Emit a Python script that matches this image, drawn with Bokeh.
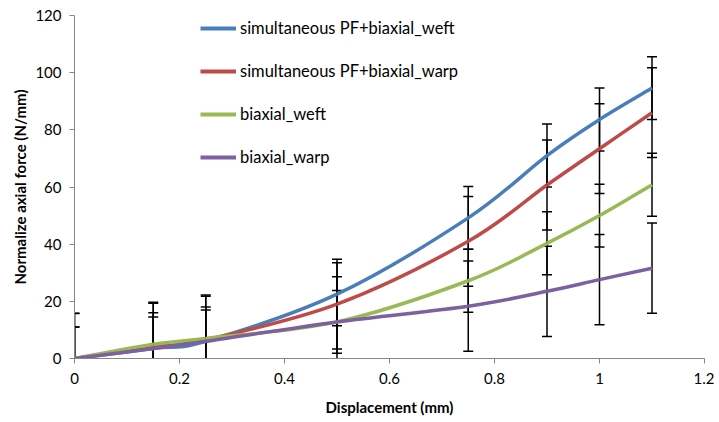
from bokeh.plotting import figure
from bokeh.models import (Range1d, FixedTicker, Whisker, ColumnDataSource, Legend, LegendItem, TeeHead)
from bokeh.embed import file_html
from bokeh.resources import INLINE

# ---- data ----
disp = [0, 0.15, 0.25, 0.5, 0.75, 0.9, 1.0, 1.1]
pf_weft = [0, 3.5, 6.0, 22.5, 49.2, 71.0, 83.6, 94.6]
pf_warp = [0, 4.0, 6.5, 19.0, 41.0, 60.7, 73.4, 86.0]
bi_weft = [0, 5.0, 7.0, 12.8, 27.2, 40.3, 50.0, 60.8]
bi_warp = [0, 3.5, 6.0, 12.8, 18.3, 23.5, 27.6, 31.6]

pf_weft_err_up = [11, 11, 11, 11, 11, 11, 11, 11]
pf_weft_err_dn = [0, 11, 11, 11, 11, 11, 11, 11]
pf_warp_err_up = [15.7, 15.7, 15.7, 15.7, 15.7, 15.7, 15.7, 15.7]
pf_warp_err_dn = [0, 15.7, 15.7, 15.7, 15.7, 15.7, 15.7, 15.7]
bi_weft_err_up = [11, 11, 11, 11, 11, 11, 11, 11]
bi_weft_err_dn = [0, 11, 11, 11, 11, 11, 11, 11]
bi_warp_err_up = [15.8, 15.8, 15.8, 15.8, 15.8, 15.8, 15.8, 15.8]
bi_warp_err_dn = [0, 15.8, 15.8, 15.8, 15.8, 15.8, 15.8, 15.8]

names = ["simultaneous PF+biaxial_weft", "simultaneous PF+biaxial_warp", "biaxial_weft", "biaxial_warp"]
colors = ["#4A7EBB", "#BE4B48", "#98B954", "#7D60A0"]
x_ticks = [0, 0.2, 0.4, 0.6, 0.8, 1.0, 1.2]
x_tick_labels = ["0", "0.2", "0.4", "0.6", "0.8", "1", "1.2"]
y_ticks = [0, 20, 40, 60, 80, 100, 120]

FONT = "Lato"

p = figure(width=714, height=420, output_backend="svg", toolbar_location=None,
           x_range=Range1d(0, 1.2), y_range=Range1d(0, 120),
           min_border_left=74, min_border_top=15, min_border_right=10, min_border_bottom=62)
p.outline_line_color = None
p.grid.visible = False
p.background_fill_color = "white"

series = [
    (pf_weft, pf_weft_err_up, pf_weft_err_dn),
    (pf_warp, pf_warp_err_up, pf_warp_err_dn),
    (bi_weft, bi_weft_err_up, bi_weft_err_dn),
    (bi_warp, bi_warp_err_up, bi_warp_err_dn),
]


def smooth_segments(xs, ys):
    """Catmull-Rom style control points (Excel 'smoothed line' rendering)."""
    n = len(xs)
    x0, y0, x1, y1, cx0, cy0, cx1, cy1 = [], [], [], [], [], [], [], []
    for i in range(n - 1):
        ip = max(i - 1, 0)
        inn = min(i + 2, n - 1)
        x0.append(xs[i]); y0.append(ys[i])
        x1.append(xs[i + 1]); y1.append(ys[i + 1])
        cx0.append(xs[i] + (xs[i + 1] - xs[ip]) / 6.0)
        cy0.append(ys[i] + (ys[i + 1] - ys[ip]) / 6.0)
        cx1.append(xs[i + 1] - (xs[inn] - xs[i]) / 6.0)
        cy1.append(ys[i + 1] - (ys[inn] - ys[i]) / 6.0)
    return dict(x0=x0, y0=y0, x1=x1, y1=y1, cx0=cx0, cy0=cy0, cx1=cx1, cy1=cy1)


for (vals, eu, ed), col in zip(series, colors):
    seg = ColumnDataSource(smooth_segments(disp, vals))
    p.bezier(x0="x0", y0="y0", x1="x1", y1="y1", cx0="cx0", cy0="cy0", cx1="cx1", cy1="cy1",
             source=seg, line_color=col, line_width=3.5)

for (vals, eu, ed) in series:
    src = ColumnDataSource(dict(x=disp,
                                upper=[v + e for v, e in zip(vals, eu)],
                                lower=[v - e for v, e in zip(vals, ed)]))
    w = Whisker(source=src, base="x", upper="upper", lower="lower", dimension="height",
                line_color="black", line_width=1.5,
                upper_head=TeeHead(size=10, line_color="black", line_width=1.5),
                lower_head=TeeHead(size=10, line_color="black", line_width=1.5))
    p.add_layout(w)

# legend entries
legend_items = []
for name, col in zip(names, colors):
    proxy = p.line([0, 0], [0, 0], line_color=col, line_width=4, line_alpha=0)
    legend_items.append(LegendItem(label=name, renderers=[proxy]))

legend = Legend(items=legend_items, location=(126, 191), orientation="vertical",
                glyph_width=36, glyph_height=20, label_height=20, spacing=23,
                label_standoff=4, padding=0, margin=0,
                background_fill_alpha=0, border_line_color=None,
                label_text_font=FONT, label_text_font_size="16.5px", label_text_color="black")
p.add_layout(legend)
for li in legend_items:
    li.renderers[0].glyph.line_alpha = 1

for ax in (p.xaxis[0], p.yaxis[0]):
    ax.axis_line_color = "#868686"
    ax.major_tick_line_color = "#868686"
    ax.minor_tick_line_color = None
    ax.major_tick_out = 5
    ax.major_tick_in = 0
    ax.major_label_text_font = FONT
    ax.major_label_text_font_size = "15px"
    ax.major_label_text_color = "black"
    ax.axis_label_text_font = FONT
    ax.axis_label_text_font_size = "15px"
    ax.axis_label_text_font_style = "bold"
    ax.axis_label_text_color = "black"

p.xaxis.ticker = FixedTicker(ticks=x_ticks)
p.xaxis.major_label_overrides = {t: l for t, l in zip(x_ticks, x_tick_labels)}
p.yaxis.ticker = FixedTicker(ticks=y_ticks)
p.xaxis.axis_label = "Displacement (mm)"
p.yaxis.axis_label = "Normalize axial force (N/mm)"
p.xaxis.major_label_standoff = 9
p.yaxis.major_label_standoff = 8
p.xaxis.axis_label_standoff = 11
p.yaxis.axis_label_standoff = 3

open("out.html", "w").write(file_html(p, INLINE))
